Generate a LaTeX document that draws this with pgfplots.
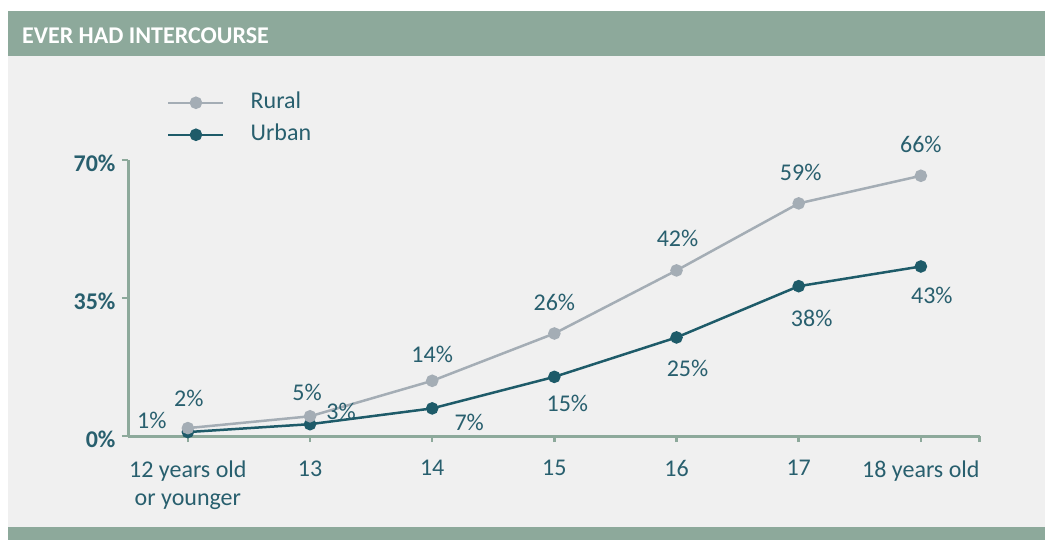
\documentclass[border=0pt]{standalone}
\usepackage{pgfplots}
\pgfplotsset{compat=1.18}
\usepackage{pgfplotstable}
\usepackage{fontspec}
\setmainfont{Carlito}
\definecolor{hdr}{RGB}{141,169,155}
\definecolor{bg}{RGB}{240,240,240}
\definecolor{rural}{RGB}{164,173,181}
\definecolor{urban}{RGB}{30,91,105}
\definecolor{txt}{RGB}{40,95,110}
\newcommand{\ff}{\fontsize{24bp}{28bp}\selectfont}
\pgfplotstableread{
x y dx dy lab
0 2 1 30 2\%
1 5 -3 24 5\%
2 14 0 26 14\%
3 26 0 31 26\%
4 42 1 32 42\%
5 59 2 31 59\%
6 66 0 31 66\%
}\ruraltab
\pgfplotstableread{
x y dx dy lab
0 1 -36 12 1\%
1 3 31 13 3\%
2 7 37 -14 7\%
3 15 13 -27 15\%
4 25 11 -31 25\%
5 38 13 -32 38\%
6 43 11 -29 43\%
}\urbantab
\begin{document}
\begin{tikzpicture}
\fill[white] (0,0) rectangle (1045bp,-540bp);
\fill[bg] (8bp,-56bp) rectangle (1045bp,-527bp);
\fill[hdr] (8bp,-11bp) rectangle (1045bp,-56bp);
\fill[hdr] (8bp,-527bp) rectangle (1045bp,-540bp);
\node[anchor=base west, text=white, font=\ff\bfseries, inner sep=0pt] at (22bp,-43bp) {EVER HAD INTERCOURSE};
\begin{axis}[
  at={(128bp,-436bp)}, anchor=south west,
  scale only axis, width=851.5bp, height=276bp,
  xmin=-0.49, xmax=6.48, ymin=0, ymax=70,
  clip=false,
  axis x line*=bottom, axis y line*=left,
  axis line style={hdr, line width=3bp, -},
  tick style={hdr, line width=2.5bp},
  major tick length=6bp, tick align=outside,
  xtick={0,1,2,3,4,5,6,6.48},
  xticklabels={{12 years old\\or younger},13,14,15,16,17,18 years old,{}},
  xticklabel style={align=center, font=\ff, text=txt, yshift=-15bp},
  ytick={0,35,70},
  yticklabels={0\%,35\%,70\%},
  yticklabel style={font=\ff\bfseries, text=txt, xshift=-3bp, yshift=-3bp},
  legend style={draw=none, fill=none, at={(0.0458,1.248)}, anchor=north west,
    font=\ff, text=txt, inner sep=0pt, row sep=10bp,
    nodes={text height=17bp, text depth=5bp, inner sep=0pt},
    /tikz/every odd column/.style={column sep=26bp}},
  legend cell align=left,
  legend image code/.code={\draw[mark repeat=2,mark phase=2] plot coordinates {(0bp,0bp) (27.5bp,0bp) (55bp,0bp)};},
]
\addlegendimage{rural, line width=2.5bp, mark=*, mark size=5bp, mark options={solid, fill=rural, draw=rural}}
\addlegendentry{Rural}
\addlegendimage{urban, line width=2.5bp, mark=*, mark size=5bp, mark options={solid, fill=urban, draw=urban}}
\addlegendentry{Urban}
\addplot[forget plot, urban, line width=2.5bp, mark=*, mark size=5bp, mark options={solid, fill=urban, draw=urban}] table[x=x,y=y] {\urbantab};
\addplot[forget plot, rural, line width=2.5bp, mark=*, mark size=5bp, mark options={solid, fill=rural, draw=rural}] table[x=x,y=y] {\ruraltab};
\addplot[draw=none, mark=none, forget plot, nodes near coords, point meta=explicit symbolic,
  visualization depends on={\thisrow{dx}\as\dx},
  visualization depends on={\thisrow{dy}\as\dy},
  every node near coord/.append style={anchor=center, font=\ff, text=txt, xshift=\dx*1bp, yshift=\dy*1bp}]
  table[x=x,y=y,meta=lab] {\ruraltab};
\addplot[draw=none, mark=none, forget plot, nodes near coords, point meta=explicit symbolic,
  visualization depends on={\thisrow{dx}\as\dx},
  visualization depends on={\thisrow{dy}\as\dy},
  every node near coord/.append style={anchor=center, font=\ff, text=txt, xshift=\dx*1bp, yshift=\dy*1bp}]
  table[x=x,y=y,meta=lab] {\urbantab};
\end{axis}
\end{tikzpicture}
\end{document}
